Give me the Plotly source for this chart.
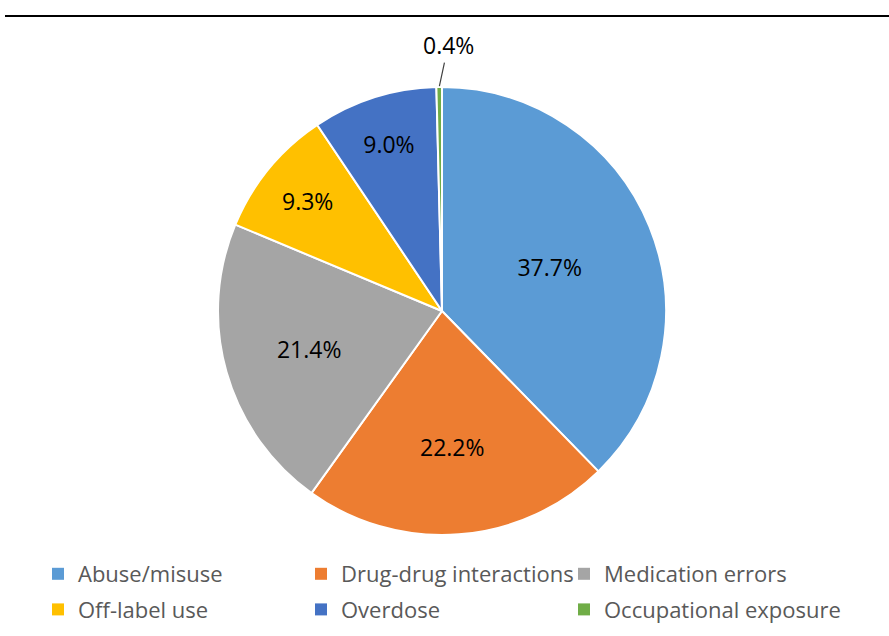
import math
import plotly.graph_objects as go

categories = ["Abuse/misuse", "Drug-drug interactions", "Medication errors",
              "Off-label use", "Overdose", "Occupational exposure"]
values = [37.7, 22.2, 21.4, 9.3, 9.0, 0.4]
colors = ["#5B9BD5", "#ED7D31", "#A5A5A5", "#FFC000", "#4472C4", "#70AD47"]

W, H = 889, 636
cx, cy, r = 442, 311, 224

texts = ["%.1f%%" % v if v >= 1 else "" for v in values]

fig = go.Figure()
fig.add_trace(go.Pie(
    labels=categories,
    values=values,
    sort=False,
    direction="clockwise",
    rotation=0,
    marker=dict(colors=colors, line=dict(color="white", width=2)),
    text=texts,
    textinfo="text",
    textposition="inside",
    insidetextorientation="horizontal",
    textfont=dict(family="Open Sans", size=23, color="black"),
    domain=dict(x=[(cx - r) / W, (cx + r) / W], y=[(H - cy - r) / H, (H - cy + r) / H]),
    showlegend=False,
    hoverinfo="label+percent",
))

# legend entries (one legend per column, laid out like the original 3x2 grid)
legend_names = ["legend", "legend2", "legend3"]
for i, (cat, col) in enumerate(zip(categories, colors)):
    fig.add_trace(go.Scatter(
        x=[None], y=[None], mode="markers", name=cat,
        marker=dict(symbol="square", size=12, color=col),
        legend=legend_names[i % 3], legendgroup=cat, showlegend=True,
        hoverinfo="skip",
    ))

# annotation for the small slice, anchored on its mid-angle at the rim
total = sum(values)
cum = sum(values[:-1])
mid = (cum + values[-1] / 2) / total * 2 * math.pi
px_ = cx + r * math.sin(mid)
py_ = cy - r * math.cos(mid)
fig.add_annotation(
    x=px_ / W, y=1 - py_ / H, xref="paper", yref="paper",
    text="%.1f%%" % values[-1], showarrow=True, arrowhead=0, arrowwidth=1.2,
    arrowcolor="#404040", ax=9, ay=-42, standoff=1,
    font=dict(family="Open Sans", size=23, color="black"),
)

legend_font = dict(family="Open Sans", size=22, color="#595959")
leg_common = dict(orientation="v", xanchor="left", yanchor="top", y=1 - 553 / H,
                  traceorder="grouped", tracegroupgap=4, font=legend_font,
                  bgcolor="rgba(0,0,0,0)")
fig.update_layout(
    width=W, height=H,
    margin=dict(l=0, r=0, t=0, b=0),
    paper_bgcolor="white",
    plot_bgcolor="white",
    showlegend=True,
    xaxis=dict(visible=False),
    yaxis=dict(visible=False),
    legend=dict(x=38 / W, **leg_common),
    legend2=dict(x=301 / W, **leg_common),
    legend3=dict(x=564 / W, **leg_common),
)

fig.add_shape(type="line", xref="paper", yref="paper",
              x0=5 / W, x1=1, y0=1 - 16 / H, y1=1 - 16 / H,
              line=dict(color="black", width=2))

fig.write_html("out.html")
